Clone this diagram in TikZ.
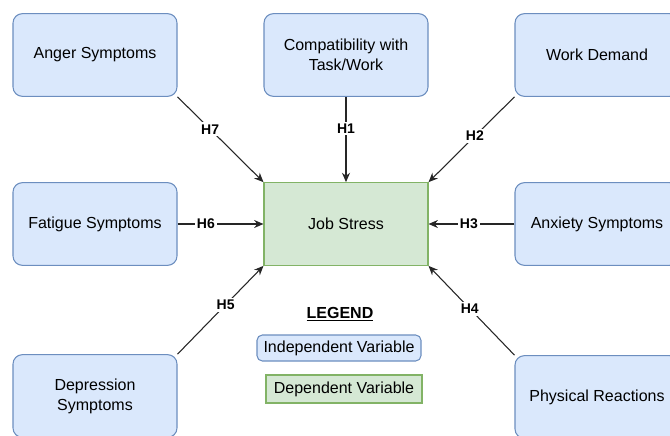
\documentclass[tikz,border=0pt]{standalone}
\usepackage{fontspec}
\setmainfont{Liberation Sans}
\usepackage{xcolor}
\usetikzlibrary{arrows.meta}

\definecolor{indepfill}{HTML}{DAE8FC}
\definecolor{indepline}{HTML}{6C8EBF}
\definecolor{depfill}{HTML}{D5E8D4}
\definecolor{depline}{HTML}{82B366}

\tikzset{
    indep/.style={draw=indepline, fill=indepfill, line width=0.8pt, rounded corners=7pt,
        minimum width=123pt, minimum height=62pt, align=center,
        font=\fontsize{12}{15}\selectfont},
    dep/.style={draw=depline, fill=depfill, line width=0.8pt,
        minimum width=123pt, minimum height=62pt, align=center,
        font=\fontsize{12}{15}\selectfont},
    hyp/.style={font=\bfseries\fontsize{10.5}{12}\selectfont, fill=white, inner sep=1.5pt},
    link/.style={-{Stealth[length=7pt, width=6pt]}, draw=black!85, line width=0.8pt}
}

\begin{document}
\begin{tikzpicture}[x=0.75pt, y=-0.75pt]

    \useasboundingbox (0,0) rectangle (670,435);

    % =================================================================
    % Variables
    % =================================================================
    \node[indep] (anger) at (95,55) {Anger Symptoms};
    \node[indep] (compat) at (346,55) {Compatibility with\\Task/Work};
    \node[indep] (work) at (597,55) {Work Demand};

    \node[indep] (fatigue) at (95,224) {Fatigue Symptoms};
    \node[dep] (stress) at (346,224) {Job Stress};
    \node[indep] (anxiety) at (597,224) {Anxiety Symptoms};

    \node[indep] (depress) at (95,396) {Depression\\Symptoms};
    \node[indep] (physical) at (597,397) {Physical Reactions};

    % =================================================================
    % Hypotheses
    % =================================================================
    \draw[link] (anger.south east) -- node[hyp, pos=0.38] {H7} (stress.north west);
    \draw[link] (compat.south) -- node[hyp, pos=0.37] {H1} (stress.north);
    \draw[link] (work.south west) -- node[hyp, pos=0.46] {H2} (stress.north east);
    \draw[link] (fatigue.east) -- node[hyp, pos=0.33] {H6} (stress.west);
    \draw[link] (anxiety.west) -- node[hyp, pos=0.53] {H3} (stress.east);
    \draw[link] (depress.north east) -- node[hyp, pos=0.56] {H5} (stress.south west);
    \draw[link] (physical.north west) -- node[hyp, pos=0.52] {H4} (stress.south east);

    % =================================================================
    % Legend
    % =================================================================
    \node[font=\bfseries\fontsize{12}{14}\selectfont] (legend) at (340,314) {\underline{LEGEND}};
    \node[indep, rounded corners=4pt, minimum width=123pt, minimum height=19.5pt] (legindep) at (339,348) {Independent Variable};
    \node[dep, minimum width=117pt, minimum height=21pt] (legdep) at (344,389) {Dependent Variable};

\end{tikzpicture}
\end{document}
